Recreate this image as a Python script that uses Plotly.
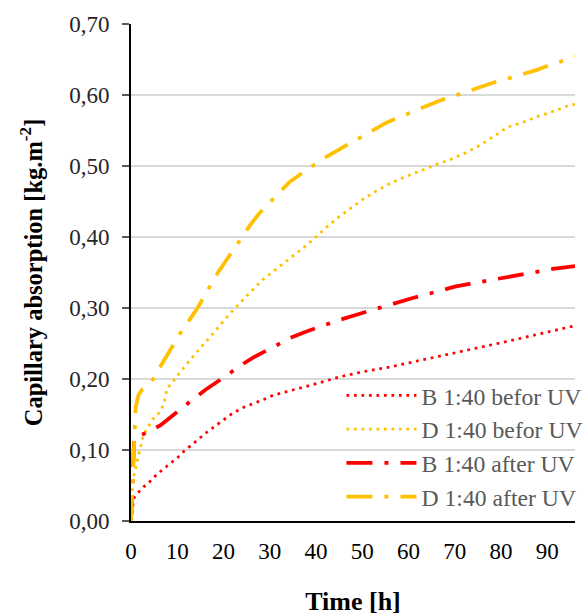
import plotly.graph_objects as go

# Time [h] and capillary absorption [kg.m-2]
b_before_t = [0, 0.3, 0.6, 1.7, 2.7, 4.0, 5.0, 6.4, 7.7, 8.9, 10.2, 11.4, 12.6, 13.8, 16.4, 19.2, 21.8,
              24.6, 27.9, 30.7, 34.2, 37.2, 40.4, 45.1, 50, 56, 61, 66.7, 72.8, 80, 88, 96]
b_before_v = [0, 0.020, 0.032, 0.041, 0.048, 0.055, 0.062, 0.070, 0.077, 0.084, 0.090, 0.098, 0.105, 0.111,
              0.125, 0.139, 0.151, 0.161, 0.169, 0.177, 0.183, 0.189, 0.194, 0.203, 0.210, 0.217, 0.224,
              0.232, 0.241, 0.251, 0.263, 0.275]

d_before_t = [0, 0.2, 0.5, 1.0, 1.5, 2.1, 2.5, 3.1, 4.2, 5.1, 6.4, 7.2, 7.8, 8.6, 9.7, 10.7, 12.8, 15,
              17.2, 19.3, 21.5, 23.7, 26, 28.3, 29.7, 32.3, 34.9, 37.5, 40, 42.3, 44.9, 47.7, 50.1, 53.1,
              55.9, 59, 62, 65.2, 69.8, 72.8, 75.7, 78.6, 81.5, 84.6, 87.6, 90.9, 94.1, 96]
d_before_v = [0, 0.040, 0.060, 0.075, 0.090, 0.107, 0.117, 0.126, 0.137, 0.147, 0.154, 0.168, 0.186, 0.193,
              0.201, 0.210, 0.227, 0.243, 0.260, 0.276, 0.293, 0.308, 0.324, 0.339, 0.346, 0.359, 0.372,
              0.386, 0.400, 0.414, 0.428, 0.441, 0.453, 0.465, 0.475, 0.484, 0.492, 0.500, 0.511, 0.520,
              0.530, 0.542, 0.555, 0.561, 0.569, 0.576, 0.584, 0.587]

b_after_t = [0, 0.4, 0.7, 3.3, 6.4, 11, 16.1, 20.9, 23.4, 26.4, 31.6, 34.5, 37.5, 40.9, 45, 50, 55, 60.9,
             66.7, 70, 73.2, 79, 82.2, 85.5, 91.2, 96]
b_after_v = [0, 0.080, 0.118, 0.124, 0.135, 0.159, 0.185, 0.206, 0.218, 0.230, 0.248, 0.258, 0.266, 0.274,
             0.283, 0.293, 0.303, 0.314, 0.324, 0.330, 0.334, 0.341, 0.344, 0.348, 0.355, 0.359]

d_after_t = [0, 0.3, 0.7, 1.0, 1.6, 2.5, 4.2, 5.8, 7.5, 10.6, 12.4, 14.2, 17.2, 18.8, 20.8, 24, 25.8, 27.8,
             31.9, 34.2, 37, 41.5, 44.4, 47.3, 52.7, 55.2, 58.5, 63.9, 66.7, 69.6, 75.4, 78.6, 81.9, 87.6,
             90.5, 96]
d_after_v = [0, 0.060, 0.120, 0.160, 0.177, 0.186, 0.194, 0.212, 0.229, 0.264, 0.281, 0.298, 0.332, 0.350,
             0.369, 0.400, 0.417, 0.434, 0.462, 0.477, 0.490, 0.510, 0.521, 0.532, 0.552, 0.561, 0.570,
             0.584, 0.592, 0.598, 0.611, 0.618, 0.624, 0.635, 0.642, 0.654]

names = ["B 1:40 befor UV", "D 1:40 befor UV", "B 1:40 after UV", "D 1:40 after UV"]
RED = "#FF0000"
ORANGE = "#FFC000"
DOT = "2.75px,4.75px"
DASHDOT = "26px,12px,4px,12px"

series = [
    (b_before_t, b_before_v, RED, DOT, 2.75),
    (d_before_t, d_before_v, ORANGE, DOT, 2.75),
    (b_after_t, b_after_v, RED, DASHDOT, 3.75),
    (d_after_t, d_after_v, ORANGE, DASHDOT, 3.75),
]

fig = go.Figure()
for i, (t, v, c, d, w) in enumerate(series):
    fig.add_trace(go.Scatter(x=t, y=v, mode="lines", name=names[i], legendgroup=str(i),
                             line=dict(color=c, dash=d, width=w)))

FONT = "Liberation Serif"
fig.update_layout(
    width=586, height=616,
    margin=dict(l=131, r=11, t=24, b=95, autoexpand=False),
    paper_bgcolor="white", plot_bgcolor="white",
    separators=", ",
    font=dict(family=FONT, size=23, color="#000000"),
    legend=dict(x=0.474, y=0.297, xanchor="left", yanchor="top", bgcolor="rgba(0,0,0,0)",
                font=dict(family=FONT, size=23.7, color="#595959"), tracegroupgap=0,
                traceorder="grouped", itemwidth=70),
    xaxis=dict(range=[0, 96], tick0=0, dtick=10, showgrid=False, zeroline=False,
               showline=True, linecolor="black", linewidth=2, ticks="",
               ticklabelstandoff=8, automargin=False,
               tickfont=dict(family=FONT, size=23, color="#000000"),
               title=dict(text="<b>Time [h]</b>", font=dict(family=FONT, size=26, color="#000000"),
                          standoff=37)),
    yaxis=dict(range=[0, 0.7], tick0=0, dtick=0.1, tickformat=".2f", showgrid=True,
               gridcolor="#D9D9D9", gridwidth=1.5, zeroline=False,
               showline=True, linecolor="black", linewidth=2, ticks="outside", ticklen=7,
               tickcolor="#595959", tickwidth=1.5, ticklabelstandoff=8, automargin=False,
               tickfont=dict(family=FONT, size=23, color="#262626"),
               title=dict(text="<b>Capillary absorption [kg.m<sup>-2</sup>]</b>",
                          font=dict(family=FONT, size=24.5, color="#000000"), standoff=20)),
)

fig.write_html("out.html")
